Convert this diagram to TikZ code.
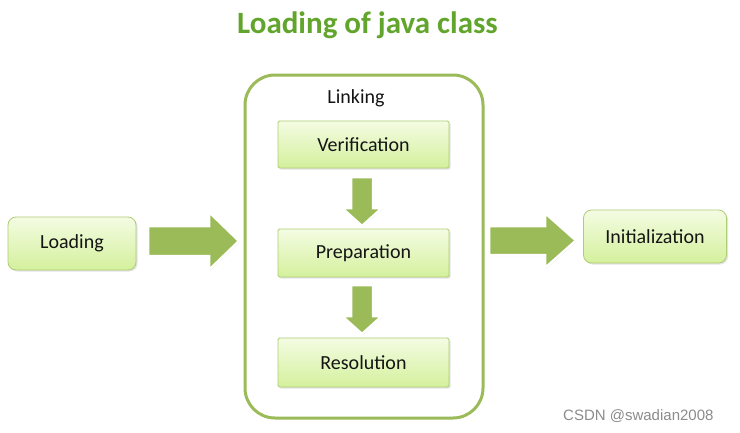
\documentclass[tikz,border=0pt]{standalone}
\usepackage{fontspec}
\setmainfont{Carlito}
\newfontfamily\wmfont{Liberation Sans}
\usetikzlibrary{shadows}
\definecolor{titlegreen}{HTML}{62A52C}
\definecolor{agreen}{HTML}{9BBB59}
\definecolor{boxtop}{HTML}{F4FCE3}
\definecolor{boxbot}{HTML}{D4F09C}
\definecolor{boxline}{HTML}{AECD74}
\definecolor{txt}{HTML}{141414}
\definecolor{wm}{HTML}{8C8C8C}
\begin{document}
\begin{tikzpicture}[x=1pt,y=-1pt,
  stage/.style={top color=boxtop,bottom color=boxbot,draw=boxline,line width=0.8pt,
    text=txt,font=\fontsize{20}{22}\selectfont,inner sep=0pt,
    drop shadow={opacity=0.22,shadow xshift=1.5pt,shadow yshift=-1.5pt}},
  inner/.style={stage,minimum width=171pt,minimum height=48pt,rounded corners=1.5pt},
  outer/.style={stage,rounded corners=8pt},
  blockarrow/.style={fill=agreen,draw=white,line width=2.5pt,line join=miter,
    drop shadow={opacity=0.2,shadow xshift=1pt,shadow yshift=-1pt}},
  container/.style={draw=agreen,line width=3pt,rounded corners=30pt,inner sep=0pt}
]
\useasboundingbox (0,0) rectangle (740,432);
\fill[white] (0,0) rectangle (740,432);

\node[anchor=base,text=titlegreen,font=\fontsize{31}{34}\selectfont\bfseries] (title) at (367.5,33) {Loading of java class};

\node[container,minimum width=238pt,minimum height=343pt] (link) at (364,246.5) {};
\node[anchor=base,text=txt,font=\fontsize{20}{22}\selectfont] (linklabel) at (356,103) {Linking};

\node[outer,minimum width=128pt,minimum height=53pt] (load) at (72,243.5) {Loading};
\node[outer,minimum width=143pt,minimum height=53pt] (init) at (655,236.5) {Initialization};

\node[inner,minimum height=47pt] (ver) at (363.5,144.5) {Verification};
\node[inner] (prep) at (363.5,253) {Preparation};
\node[inner,minimum height=49pt] (res) at (363.5,362.5) {Resolution};

% block arrows
\path[blockarrow] (148,226) -- (209,226) -- (209,212) -- (239,241) -- (209,270) -- (209,256) -- (148,256) -- cycle;
\path[blockarrow] (489,226) -- (545,226) -- (545,213) -- (576,240.5) -- (545,268) -- (545,255) -- (489,255) -- cycle;
\path[blockarrow] (351,177) -- (373,177) -- (373,208) -- (382,208) -- (362,226) -- (342,208) -- (351,208) -- cycle;
\path[blockarrow] (351,285) -- (373,285) -- (373,316) -- (382,316) -- (362,334) -- (342,316) -- (351,316) -- cycle;

\node[anchor=base west,text=wm,font=\wmfont\fontsize{15}{16}\selectfont,inner sep=0pt] (wmark) at (563,420) {CSDN @swadian2008};
\end{tikzpicture}
\end{document}
